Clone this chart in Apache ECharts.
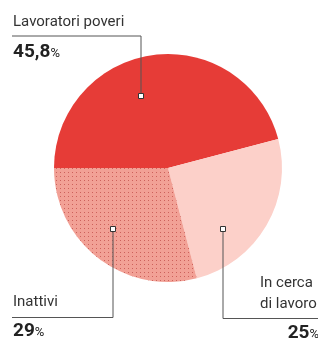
<!DOCTYPE html>
<html>
<head>
<meta charset="utf-8">
<script src="https://cdn.jsdelivr.net/npm/echarts@6/dist/echarts.min.js"></script>
<style>
  html, body { margin: 0; padding: 0; background: #fff; }
  #chart { width: 318px; height: 340px; }
</style>
</head>
<body>
<div id="chart"></div>
<script>
const categories = ['Lavoratori poveri', 'In cerca di lavoro', 'Inattivi']
const values = [45.8, 25, 29]
const valueLabels = ['45,8', '25', '29']

const colors = ['#e63c37', '#fcd0c9', '#f2a196']
const lineColor = '#555'
const font = 'Roboto'

const myChart = echarts.init(document.getElementById('chart'))

const marker = (x, y) => ({
  type: 'rect',
  shape: { x: x - 2.5, y: y - 2.5, width: 5, height: 5 },
  style: { fill: '#fff', stroke: '#333', lineWidth: 1 },
  z: 10
})
const line = (points) => ({
  type: 'polyline',
  shape: { points },
  style: { stroke: lineColor, lineWidth: 1, fill: null },
  z: 9
})
const name = (x, y, text, align) => ({
  type: 'text',
  x, y,
  style: { text, fill: '#333', font: `15px ${font}`, align: align || 'left', verticalAlign: 'bottom', lineHeight: 20 },
  z: 10
})
const value = (x, y, v, align) => ({
  type: 'text',
  x, y,
  style: {
    text: `{v|${v}}{p|%}`,
    align: align || 'left',
    verticalAlign: 'top',
    rich: {
      v: { font: `bold 19px ${font}`, fill: '#222' },
      p: { font: `13px ${font}`, fill: '#222', padding: [3, 0, 0, 0] }
    }
  },
  z: 10
})

const option = {
  animation: false,
  series: [
    {
      type: 'pie',
      center: [168, 168],
      radius: [0, 114],
      startAngle: 180,
      clockwise: true,
      label: { show: false },
      labelLine: { show: false },
      emphasis: { disabled: true },
      data: categories.map((c, i) => {
        const itemStyle = { color: colors[i] }
        if (i === 2) {
          itemStyle.decal = {
            symbol: 'rect',
            symbolSize: 1,
            dashArrayX: [1, 3],
            dashArrayY: [1, 3],
            color: 'rgba(190, 70, 65, 0.7)'
          }
        }
        return { name: c, value: values[i], itemStyle }
      })
    }
  ],
  graphic: [
    name(13, 32, categories[0]),
    line([[12, 36], [141, 36], [141, 96]]),
    marker(141, 96),
    value(13, 43, valueLabels[0]),

    name(13, 312, categories[2]),
    line([[12, 317.5], [113, 317.5], [113, 229]]),
    marker(113, 229),
    value(13, 322, valueLabels[2]),

    name(260, 293, 'In cerca'),
    name(260, 314, 'di lavoro'),
    line([[318, 318.5], [223, 318.5], [223, 229]]),
    marker(223, 229),
    value(319, 324, valueLabels[1], 'right')
  ]
}
myChart.setOption(option)
</script>
</body>
</html>
